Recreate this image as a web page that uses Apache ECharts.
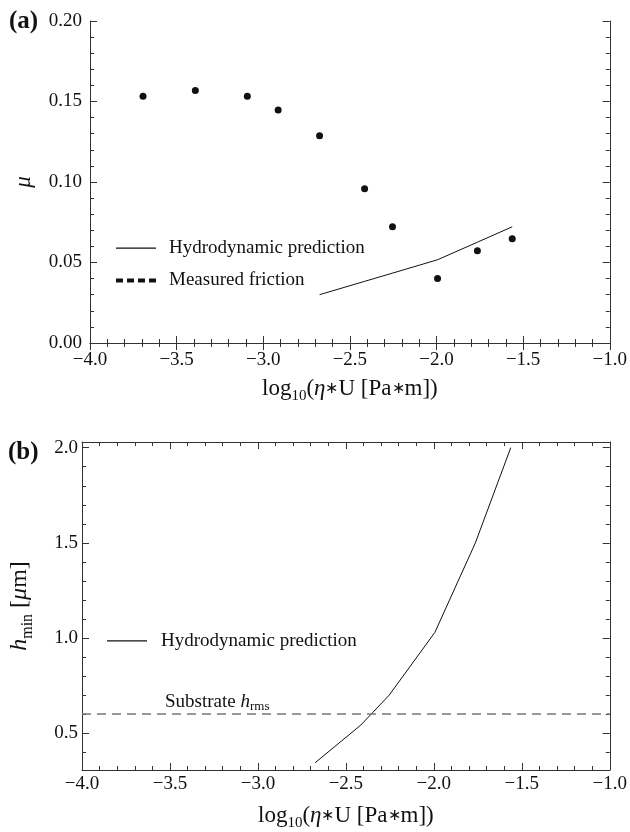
<!DOCTYPE html>
<html>
<head>
<meta charset="utf-8">
<script src="https://cdn.jsdelivr.net/npm/echarts@6/dist/echarts.min.js"></script>
<style>
  html, body { margin: 0; padding: 0; background: #fff; }
  #chart { width: 630px; height: 832px; }
</style>
</head>
<body>
<div id="chart"></div>
<script>
// Measured friction coefficient vs log10(eta*U)
const logEtaU = [-3.694, -3.392, -3.092, -2.914, -2.675, -2.415, -2.254, -1.994, -1.764, -1.563];
const muMeasured = [0.1532, 0.1569, 0.1532, 0.1447, 0.1288, 0.0958, 0.0722, 0.0401, 0.0573, 0.0648];

// Hydrodynamic model evaluated at the higher-speed points
const logEtaUModel = [-2.675, -2.415, -2.254, -1.994, -1.764, -1.563];
const muModel = [0.0300, 0.0383, 0.0434, 0.0517, 0.0626, 0.0722];
const hMinModel = [0.345, 0.543, 0.700, 1.030, 1.500, 2.000];

// Substrate roughness level (µm)
const substrateHrms = 0.6;

// Tick positions
const xTicks = [-4.0, -3.5, -3.0, -2.5, -2.0, -1.5, -1.0];
const muTicks = [0.00, 0.05, 0.10, 0.15, 0.20];
const hMajorTicks = [0.5, 1.0, 1.5, 2.0];
const hMinorTicks = [0.4, 0.6, 0.7, 0.8, 0.9, 1.1, 1.2, 1.3, 1.4, 1.6, 1.7, 1.8, 1.9];

const FONT = 'Liberation Serif';
const INK = '#111';
const FRAME = '#333';

const zip = (xs, ys) => xs.map((x, i) => [x, ys[i]]);
const signed = (v, d) => (v < 0 ? '\u2212' : '') + Math.abs(v).toFixed(d);

const xNameRich = {
  t: { fontFamily: FONT, fontSize: 23, color: INK },
  a: { fontFamily: FONT, fontSize: 16, color: INK },
  s: { fontFamily: FONT, fontSize: 15, color: INK, padding: [16, 0, 0, 0] },
  i: { fontFamily: FONT, fontSize: 23, color: INK, fontStyle: 'italic' }
};
const xName = '{t|log}{s|10}{t|(}{i|\u03b7}{a|\u2217}{t|U [Pa}{a|\u2217}{t|m])}';

function xAxisPair(gridIndex, labelMargin, nameGap) {
  const common = {
    gridIndex, type: 'value', min: -4, max: -1, interval: 0.5,
    axisLine: { lineStyle: { color: FRAME, width: 1 } },
    axisTick: { inside: true, length: 7, lineStyle: { color: FRAME } },
    minorTick: { show: true, splitNumber: 5, length: 4, lineStyle: { color: FRAME } },
    splitLine: { show: false }
  };
  return [
    Object.assign({}, common, {
      position: 'bottom',
      axisLabel: {
        customValues: xTicks, formatter: v => signed(v, 1),
        fontFamily: FONT, fontSize: 19, color: INK, margin: labelMargin
      },
      name: xName, nameLocation: 'middle', nameGap: nameGap,
      nameTextStyle: { rich: xNameRich }
    }),
    Object.assign({}, common, { position: 'top', axisLabel: { show: false } })
  ];
}

const lineIcon = 'path://M0 0H40V1.2H0Z';
const dashIcon = 'path://M0 0H7V4H0Z M11 0H18V4H11Z M22 0H29V4H22Z M33 0H40V4H33Z';

const option = {
  animation: false,
  backgroundColor: '#fff',
  grid: [
    { left: 90, top: 21, width: 523, height: 322 },
    { left: 80, top: 442, width: 533, height: 330 }
  ],
  xAxis: [].concat(xAxisPair(0, 8, 30), xAxisPair(1, 5, 30)),
  yAxis: [
    {
      gridIndex: 0, type: 'value', min: 0, max: 0.2, interval: 0.05, position: 'left',
      axisLine: { lineStyle: { color: FRAME, width: 1 } },
      axisTick: { inside: true, length: 7, lineStyle: { color: FRAME } },
      minorTick: { show: true, splitNumber: 5, length: 4, lineStyle: { color: FRAME } },
      splitLine: { show: false },
      axisLabel: {
        customValues: muTicks, formatter: v => v.toFixed(2),
        fontFamily: FONT, fontSize: 19, color: INK, margin: 8
      },
      name: '\u03bc', nameLocation: 'middle', nameGap: 55,
      nameTextStyle: { fontFamily: FONT, fontSize: 23, fontStyle: 'italic', color: INK }
    },
    {
      gridIndex: 0, type: 'value', min: 0, max: 0.2, interval: 0.05, position: 'right',
      axisLine: { lineStyle: { color: FRAME, width: 1 } },
      axisTick: { inside: true, length: 7, lineStyle: { color: FRAME } },
      minorTick: { show: true, splitNumber: 5, length: 4, lineStyle: { color: FRAME } },
      splitLine: { show: false },
      axisLabel: { show: false }
    },
    {
      gridIndex: 1, type: 'value', min: 0.307, max: 2.03, position: 'left',
      axisLine: { lineStyle: { color: FRAME, width: 1 } },
      axisTick: { inside: true, length: 7, customValues: hMajorTicks, lineStyle: { color: FRAME } },
      splitLine: { show: false },
      axisLabel: {
        customValues: hMajorTicks, formatter: v => v.toFixed(1),
        fontFamily: FONT, fontSize: 19, color: INK, margin: 4
      },
      name: '{i|h}{s|min}{t| [}{i|\u03bc}{t|m]}', nameLocation: 'middle', nameGap: 46,
      nameTextStyle: {
        rich: {
          t: { fontFamily: FONT, fontSize: 24, color: INK },
          i: { fontFamily: FONT, fontSize: 24, color: INK, fontStyle: 'italic' },
          s: { fontFamily: FONT, fontSize: 16, color: INK, padding: [16, 0, 0, 0] }
        }
      }
    },
    {
      gridIndex: 1, type: 'value', min: 0.307, max: 2.03, position: 'left',
      axisLine: { show: false },
      axisTick: { inside: true, length: 4, customValues: hMinorTicks, lineStyle: { color: FRAME } },
      splitLine: { show: false },
      axisLabel: { show: false }
    },
    {
      gridIndex: 1, type: 'value', min: 0.307, max: 2.03, position: 'right',
      axisLine: { lineStyle: { color: FRAME, width: 1 } },
      axisTick: { inside: true, length: 7, customValues: hMajorTicks, lineStyle: { color: FRAME } },
      splitLine: { show: false },
      axisLabel: { show: false }
    },
    {
      gridIndex: 1, type: 'value', min: 0.307, max: 2.03, position: 'right',
      axisLine: { show: false },
      axisTick: { inside: true, length: 4, customValues: hMinorTicks, lineStyle: { color: FRAME } },
      splitLine: { show: false },
      axisLabel: { show: false }
    }
  ],
  legend: [
    {
      orient: 'vertical', left: 116, top: 238.7, padding: 0,
      itemWidth: 40, itemHeight: 14, itemGap: 13.3,
      selectedMode: false,
      textStyle: { fontFamily: FONT, fontSize: 19, color: INK, padding: [0, 0, 0, 8] },
      data: [
        { name: 'Hydrodynamic prediction', icon: lineIcon, itemStyle: { color: INK } },
        { name: 'Measured friction', icon: dashIcon, itemStyle: { color: INK } }
      ]
    },
    {
      orient: 'vertical', left: 107, top: 631.3, padding: 0,
      itemWidth: 40, itemHeight: 14,
      selectedMode: false,
      textStyle: { fontFamily: FONT, fontSize: 19, color: INK, padding: [0, 0, 0, 9] },
      data: [{ name: 'Hydrodynamic prediction', icon: lineIcon, itemStyle: { color: INK } }]
    }
  ],
  graphic: [
    { type: 'text', left: 9, top: 9, style: { text: '(a)', font: 'bold 25px "Liberation Serif"', fill: INK } },
    { type: 'text', left: 8, top: 440, style: { text: '(b)', font: 'bold 25px "Liberation Serif"', fill: INK } }
  ],
  series: [
    {
      name: 'Measured friction', type: 'scatter', xAxisIndex: 0, yAxisIndex: 0,
      data: zip(logEtaU, muMeasured), symbol: 'circle', symbolSize: 7,
      itemStyle: { color: INK, opacity: 1 }, silent: true
    },
    {
      name: 'Hydrodynamic prediction', type: 'line', xAxisIndex: 0, yAxisIndex: 0,
      data: zip(logEtaUModel, muModel), symbol: 'none',
      itemStyle: { color: INK },
      lineStyle: { color: INK, width: 1 }, silent: true
    },
    {
      name: 'Hydrodynamic prediction', type: 'line', xAxisIndex: 2, yAxisIndex: 2,
      data: zip(logEtaUModel, hMinModel), symbol: 'none',
      itemStyle: { color: INK },
      lineStyle: { color: INK, width: 1 }, silent: true,
      markLine: {
        silent: true, symbol: 'none',
        lineStyle: { type: [9, 6], color: '#777', width: 1.5 },
        label: {
          position: 'insideStartTop', distance: [83, 1],
          formatter: '{t|Substrate }{i|h}{s|rms}',
          rich: {
            t: { fontFamily: FONT, fontSize: 19, color: INK },
            i: { fontFamily: FONT, fontSize: 19, color: INK, fontStyle: 'italic' },
            s: { fontFamily: FONT, fontSize: 13, color: INK, padding: [10, 0, 0, 0] }
          }
        },
        data: [{ yAxis: substrateHrms }]
      }
    }
  ]
};

const chart = echarts.init(document.getElementById('chart'), null, { renderer: 'canvas' });
chart.setOption(option);
</script>
</body>
</html>
